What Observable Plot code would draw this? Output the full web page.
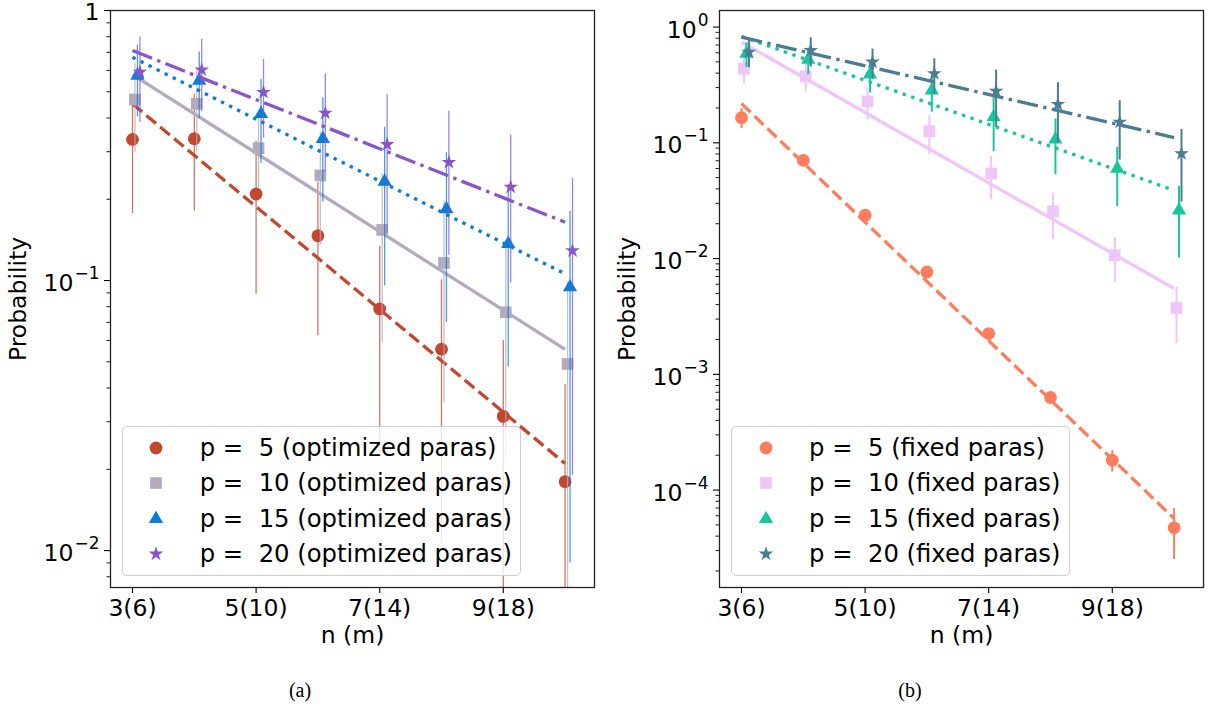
<!DOCTYPE html>
<html><head><meta charset="utf-8">
<script src="https://cdn.jsdelivr.net/npm/d3@7"></script>
<script src="https://cdn.jsdelivr.net/npm/@observablehq/plot@0.6"></script>
<style>
body{margin:0;background:#fff;}
#wrap{position:relative;width:1214px;height:708px;font-family:'DejaVu Sans',sans-serif;color:#000;overflow:hidden;background:#fff}
.panel{position:absolute;top:0;overflow:visible}
.legend{position:absolute;background:rgba(255,255,255,0.8);border:1.2px solid #d0d0d0;border-radius:5px;box-sizing:border-box}
.row{position:absolute;left:0;height:36px;white-space:pre;font-size:24.3px;line-height:36px}
.row svg{position:absolute;top:0}
.row span{position:absolute;top:0}
.caption{position:absolute;font-family:'Liberation Serif','DejaVu Serif',serif;font-size:20px;transform:translate(-50%,-50%)}
</style></head><body><div id="wrap"></div>
<script>
// ---------- data ----------
const nValues = [3, 4, 5, 6, 7, 8, 9, 10];
const fitN = [3, 10];
const xTicks = [3, 5, 7, 9];
const xTickLabels = ["3(6)", "5(10)", "7(14)", "9(18)"];
const pValues = [5, 10, 15, 20];
const shifts = [0, 0.04, 0.08, 0.12];

// (a) optimized parameters
const optP5 = [0.333, 0.335, 0.209, 0.1465, 0.0785, 0.0557, 0.0314, 0.0180];
const optP5Err = [0.156, 0.154, 0.120, 0.084, 0.0555, 0.045, 0.0286, 0.0232];
const optP10 = [0.468, 0.451, 0.309, 0.245, 0.154, 0.1162, 0.0763, 0.0491];
const optP10Err = [0.17, 0.152, 0.09, 0.11, 0.095, 0.081, 0.055, 0.05];
const optP15 = [0.574, 0.55, 0.414, 0.335, 0.2326, 0.184, 0.1368, 0.0945];
const optP15Err = [0.17, 0.152, 0.143, 0.14, 0.137, 0.114, 0.089, 0.0855];
const optP20 = [0.591, 0.603, 0.498, 0.417, 0.319, 0.274, 0.222, 0.129];
const optP20Err = [0.206, 0.18, 0.161, 0.165, 0.169, 0.15, 0.124, 0.110];
const optFit5 = [0.451, 0.0210];
const optFit10 = [0.579, 0.0556];
const optFit15 = [0.671, 0.1059];
const optFit20 = [0.711, 0.1644];

// (b) fixed parameters
const fixP5 = [0.165, 0.0706, 0.0237, 0.00766, 0.00225, 0.000631, 0.000181, 0.0000472];
const fixP5Err = [0.032, 0.008, 0.0026, 0.0008, 0.00024, 0.00008, 0.000038, 0.000022];
const fixP10 = [0.437, 0.375, 0.228, 0.126, 0.0542, 0.0256, 0.0107, 0.00374];
const fixP10Err = [0.113, 0.10, 0.069, 0.0475, 0.022, 0.011, 0.0045, 0.0019];
const fixP15 = [0.589, 0.523, 0.391, 0.284, 0.167, 0.107, 0.0599, 0.0261];
const fixP15Err = [0.141, 0.135, 0.121, 0.10, 0.083, 0.054, 0.0317, 0.016];
const fixP20 = [0.608, 0.629, 0.499, 0.396, 0.280, 0.215, 0.151, 0.0807];
const fixP20Err = [0.163, 0.178, 0.146, 0.135, 0.144, 0.116, 0.08, 0.05];
const fixFit5 = [0.218, 0.0000569];
const fixFit10 = [0.742, 0.00551];
const fixFit15 = [0.831, 0.0389];
const fixFit20 = [0.82, 0.111];

const leftYTicks = [0.01, 0.1, 1];
const leftYTickBase = ["10", "10", "1"];
const leftYTickExp = ["\u22122", "\u22121", ""];
const rightYTicks = [1e-4, 1e-3, 1e-2, 1e-1, 1];
const rightYTickBase = ["10", "10", "10", "10", "10"];
const rightYTickExp = ["\u22124", "\u22123", "\u22122", "\u22121", "0"];
const xDomain = [2.644, 10.476];
const leftYDomain = [0.0073, 1];
const rightYDomain = [1.44e-5, 1.39];

const symbols = ["circle", "square", "triangle", "star"];
const symbolR = {circle: 6.4, square: 6.6, triangle: 5.3, star: 4.6};
const dashes = ["12.5,5.5", null, "3.4,5.6", "21,5.5,3.4,5.5"];
const leftColors = ["#c4472f", "#b3abbd", "#0a7dd6", "#8855cb"];
const rightColors = ["#fd7d5d", "#f0c5fa", "#17c69c", "#4a7d94"];

const FS = 23.5;
const EXP_FS = 17;
const wrap = document.getElementById("wrap");
const ctx = document.createElement("canvas").getContext("2d");
ctx.font = `${EXP_FS}px 'DejaVu Sans'`;
const expWidth = s => s ? ctx.measureText(s).width + 1 : 0;

function panel({vals, errs, fits, colors, yDomain, yTicks, yBase, yExp, errWidth, errOpacity}) {
  const marks = [];
  const floor = yDomain[0] / 100;
  vals.forEach((v, i) => {
    const rows = nValues.map((n, j) => ({
      x: n + shifts[i], y: v[j],
      lo: Math.max(v[j] - errs[i][j], floor), hi: v[j] + errs[i][j]
    }));
    const fitRows = fitN.map((n, j) => ({x: n, y: fits[i][j]}));
    marks.push(Plot.ruleX(rows, {x: "x", y1: "lo", y2: "hi", stroke: colors[i], strokeWidth: errWidth, strokeOpacity: errOpacity, clip: "frame"}));
    marks.push(Plot.dot(rows, {x: "x", y: "y", symbol: () => symbols[i], r: symbolR[symbols[i]], fill: colors[i], stroke: "none"}));
    marks.push(Plot.line(fitRows, {x: "x", y: "y", stroke: colors[i], strokeWidth: 3.3, strokeDasharray: dashes[i], strokeLinecap: "butt", clip: "frame"}));
  });
  const minor = d3.scaleLog().domain(yDomain).ticks().filter(t => !yTicks.some(m => Math.abs(m - t) / m < 1e-6));
  marks.push(Plot.axisY(minor, {tickSize: 3.5, tickFormat: () => "", strokeWidth: 0.9, label: null}));
  marks.push(Plot.axisY(yTicks, {tickSize: 6, tickFormat: () => "", strokeWidth: 1.1, label: null}));
  // tick labels: base and raised exponent
  const labelRows = yTicks.map((t, k) => ({t, base: yBase[k], exp: yExp[k]}));
  labelRows.forEach(r => {
    const w = expWidth(r.exp);
    marks.push(Plot.text([r], {frameAnchor: "left", y: "t", text: "base", textAnchor: "end", lineAnchor: "middle", dx: -11 - w, dy: r.exp ? 3 : 2, fontSize: FS}));
    if (r.exp) marks.push(Plot.text([r], {frameAnchor: "left", y: "t", text: "exp", textAnchor: "end", lineAnchor: "middle", dx: -11, dy: -7, fontSize: EXP_FS}));
  });
  marks.push(Plot.axisX(xTicks, {tickSize: 6, tickPadding: 6, strokeWidth: 1.1, tickFormat: d => xTickLabels[xTicks.indexOf(d)], fontSize: FS, label: null}));
  marks.push(Plot.frame({stroke: "#222", strokeWidth: 1.3}));
  marks.push(Plot.text(["n (m)"], {frameAnchor: "bottom", dy: 48, lineAnchor: "middle", textAnchor: "middle", fontSize: FS}));
  marks.push(Plot.text(["Probability"], {frameAnchor: "left", dx: -92, rotate: -90, lineAnchor: "middle", textAnchor: "middle", fontSize: FS}));
  return Plot.plot({
    width: 600, height: 660,
    marginLeft: 110, marginRight: 6, marginTop: 10, marginBottom: 73,
    style: {fontFamily: "'DejaVu Sans', sans-serif", fontSize: FS + "px", background: "transparent", color: "#000", overflow: "visible"},
    x: {domain: xDomain, axis: null},
    y: {type: "log", domain: yDomain, axis: null},
    marks
  });
}

const left = panel({
  vals: [optP5, optP10, optP15, optP20],
  errs: [optP5Err, optP10Err, optP15Err, optP20Err],
  fits: [optFit5, optFit10, optFit15, optFit20],
  colors: leftColors, yDomain: leftYDomain, yTicks: leftYTicks, yBase: leftYTickBase, yExp: leftYTickExp,
  errWidth: 1.3, errOpacity: 0.75
});
left.classList.add("panel"); left.style.left = "0px";
wrap.appendChild(left);

const right = panel({
  vals: [fixP5, fixP10, fixP15, fixP20],
  errs: [fixP5Err, fixP10Err, fixP15Err, fixP20Err],
  fits: [fixFit5, fixFit10, fixFit15, fixFit20],
  colors: rightColors, yDomain: rightYDomain, yTicks: rightYTicks, yBase: rightYTickBase, yExp: rightYTickExp,
  errWidth: 2, errOpacity: 1
});
right.classList.add("panel"); right.style.left = "609px";
wrap.appendChild(right);

function legend(x, y, w, h, colors, suffix) {
  const box = document.createElement("div");
  box.className = "legend";
  Object.assign(box.style, {left: x + "px", top: y + "px", width: w + "px", height: h + "px"});
  pValues.forEach((p, i) => {
    const row = document.createElement("div");
    row.className = "row";
    row.style.top = (20.7 + i * 35.5 - 18) + "px";
    row.style.width = w + "px";
    const sym = symbols[i];
    const r = symbolR[sym];
    const d3sym = {circle: d3.symbolCircle, square: d3.symbolSquare, triangle: d3.symbolTriangle, star: d3.symbolStar}[sym];
    const svg = `<svg width="20" height="36" style="left:${33.8 - 10}px"><path transform="translate(10,18)" d="${d3.symbol(d3sym, r * r * Math.PI)()}" fill="${colors[i]}"/></svg>`;
    row.innerHTML = svg + `<span style="left:77px">p =  ${p} (${suffix})</span>`;
    box.appendChild(row);
  });
  wrap.appendChild(box);
}
legend(121.7, 426, 399.3, 149.7, leftColors, "optimized paras");
legend(731, 426, 339, 149.7, rightColors, "fixed paras");

[["(a)", 300], ["(b)", 910]].forEach(([t, x]) => {
  const c = document.createElement("div");
  c.className = "caption"; c.textContent = t;
  c.style.left = x + "px"; c.style.top = "690px";
  wrap.appendChild(c);
});
</script></body></html>
